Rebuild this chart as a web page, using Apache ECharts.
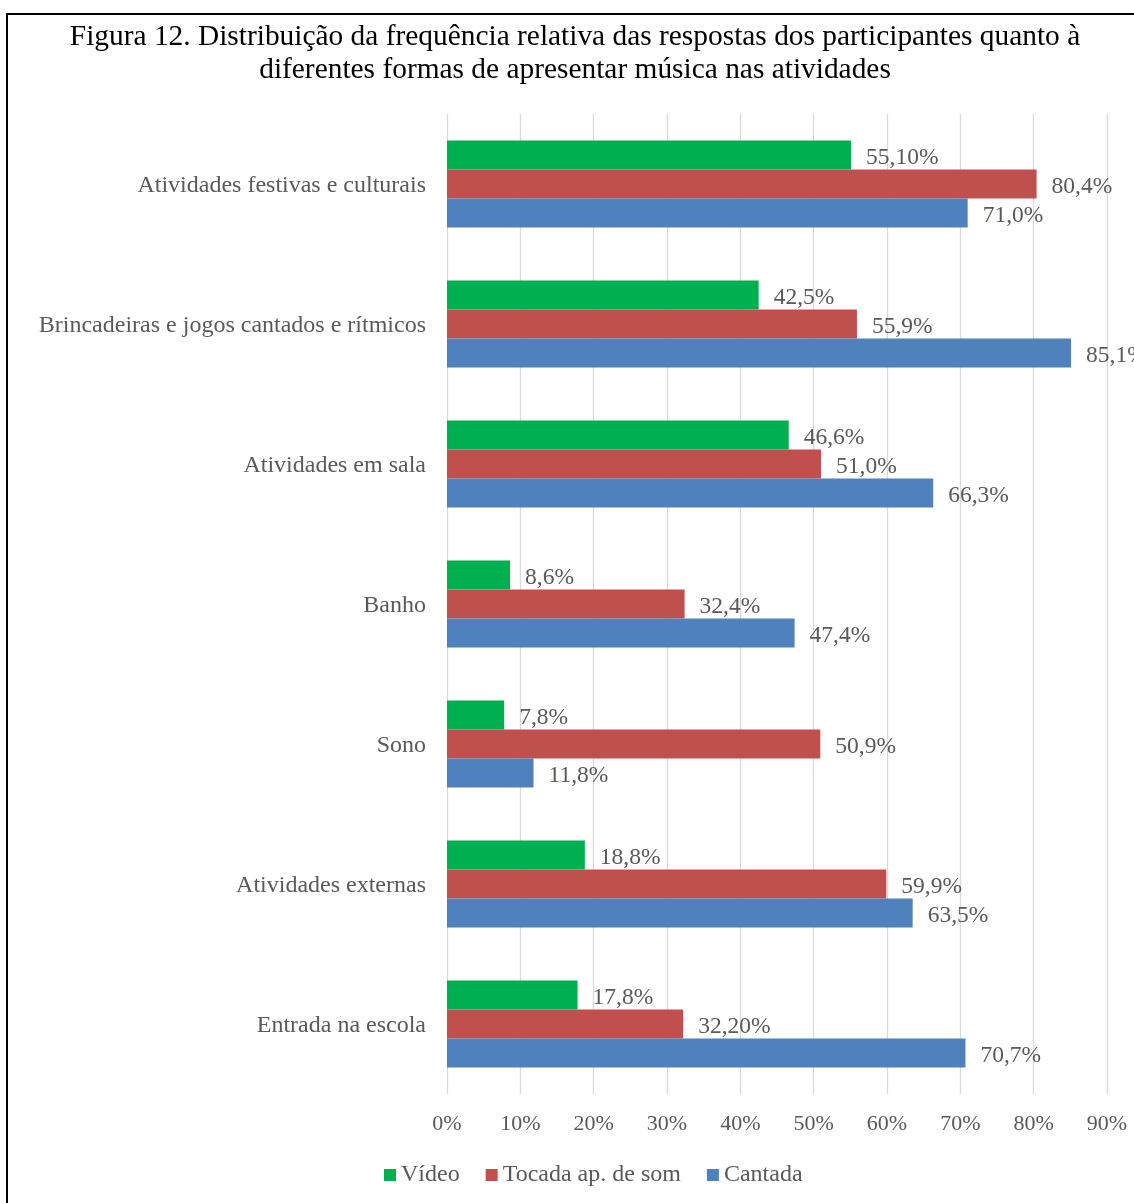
<!DOCTYPE html>
<html>
<head>
<meta charset="utf-8">
<script src="https://cdn.jsdelivr.net/npm/echarts@6/dist/echarts.min.js"></script>
<style>
  html, body { margin: 0; padding: 0; background: #fff; }
  #chart { width: 1134px; height: 1203px; }
</style>
</head>
<body>
<div id="chart"></div>
<script>
// Categories listed bottom to top (category axis starts at the bottom)
var categories = [
  'Entrada na escola',
  'Atividades externas',
  'Sono',
  'Banho',
  'Atividades em sala',
  'Brincadeiras e jogos cantados e rítmicos',
  'Atividades festivas e culturais'
];

// Percentages, written with the decimals shown in each label
var video   = ['17.8', '18.8', '7.8', '8.6', '46.6', '42.5', '55.10'];
var tocada  = ['32.20', '59.9', '50.9', '32.4', '51.0', '55.9', '80.4'];
var cantada = ['70.7', '63.5', '11.8', '47.4', '66.3', '85.1', '71.0'];

var xTicks = [0, 10, 20, 30, 40, 50, 60, 70, 80, 90];

var FONT = '"Liberation Serif", "Times New Roman", serif';
var GREY = '#595959';

function makeSeries(name, raw, color) {
  return {
    name: name,
    type: 'bar',
    barWidth: 29,
    barGap: '0%',
    data: raw.map(function (s) { return parseFloat(s); }),
    itemStyle: { color: color },
    label: {
      show: true,
      position: 'right',
      distance: 15,
      offset: [0, 3],
      color: GREY,
      fontFamily: FONT,
      fontSize: 23.5,
      formatter: function (p) { return raw[p.dataIndex].replace('.', ',') + '%'; }
    }
  };
}

var chart = echarts.init(document.getElementById('chart'), null, { renderer: 'canvas' });

chart.setOption({
  backgroundColor: '#fff',
  animation: false,
  title: {
    text: 'Figura 12. Distribuição da frequência relativa das respostas dos participantes quanto à\ndiferentes formas de apresentar música nas atividades',
    left: 570,
    top: 16,
    textAlign: 'center',
    textStyle: {
      fontFamily: FONT,
      fontSize: 29.4,
      fontWeight: 'normal',
      color: '#000',
      lineHeight: 33
    }
  },
  legend: {
    data: ['Vídeo', 'Tocada ap. de som', 'Cantada'],
    left: 379,
    top: 1158,
    icon: 'rect',
    itemWidth: 12,
    itemHeight: 12,
    itemGap: 26,
    textStyle: { fontFamily: FONT, fontSize: 24, color: GREY }
  },
  grid: { left: 447, right: 27, top: 114, bottom: 109, containLabel: false },
  xAxis: {
    type: 'value',
    min: xTicks[0],
    max: xTicks[xTicks.length - 1],
    interval: 10,
    axisLine: { show: false },
    axisTick: { show: false },
    splitLine: { show: true, lineStyle: { color: '#d9d9d9', width: 1.3 } },
    axisLabel: {
      formatter: '{value}%',
      margin: 19,
      color: GREY,
      fontFamily: FONT,
      fontSize: 22
    }
  },
  yAxis: {
    type: 'category',
    data: categories,
    axisLine: { show: false },
    axisTick: { show: false },
    axisLabel: {
      margin: 21,
      color: GREY,
      fontFamily: FONT,
      fontSize: 24,
      formatter: function (v) { return '{c|' + v + '}'; },
      rich: {
        c: {
          color: GREY,
          fontFamily: FONT,
          fontSize: 24,
          padding: [4, 0, 0, 0]
        }
      }
    }
  },
  series: [
    makeSeries('Vídeo', video, '#00b050'),
    makeSeries('Tocada ap. de som', tocada, '#c0504d'),
    makeSeries('Cantada', cantada, '#4f81bd')
  ],
  graphic: [{
    type: 'rect',
    silent: true,
    shape: { x: 7, y: 14, width: 1200, height: 1250 },
    style: { fill: null, stroke: '#000', lineWidth: 2 }
  }]
});
</script>
</body>
</html>
